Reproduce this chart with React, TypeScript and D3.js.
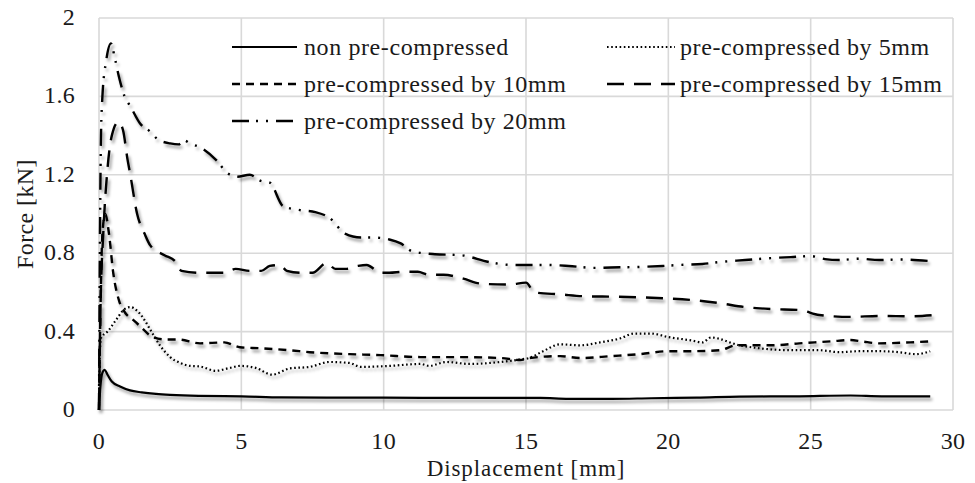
import React from "react";
import * as d3 from "d3";

type Pt = [number, number];

// Force–displacement curves: [displacement mm, force kN]
const nonPreCompressed: Pt[] = [
  [0, 0], [0.05, 0.12], [0.12, 0.19], [0.2, 0.205], [0.3, 0.18], [0.45, 0.145],
  [0.74, 0.12], [1.09, 0.1], [1.5, 0.09], [2.0, 0.082], [2.5, 0.077], [3.5, 0.072],
  [5, 0.07], [6.4, 0.064], [8, 0.063], [10, 0.063], [12, 0.062], [14, 0.062],
  [15.5, 0.062], [16.5, 0.057], [18, 0.057], [19.4, 0.06], [21, 0.063], [22.5, 0.068],
  [24.6, 0.07], [26.4, 0.074], [27.5, 0.07], [29.2, 0.07],
];

const preCompressed5: Pt[] = [
  [0, 0], [0.03, 0.3], [0.08, 0.37], [0.3, 0.4], [0.6, 0.46], [0.9, 0.515], [1.1, 0.525],
  [1.35, 0.505], [1.55, 0.47], [1.8, 0.41], [2.14, 0.33], [2.5, 0.27], [2.85, 0.24],
  [3.2, 0.225], [3.55, 0.222], [4.1, 0.2], [4.6, 0.215], [4.95, 0.225], [5.5, 0.215],
  [6.08, 0.18], [6.7, 0.212], [7.4, 0.22], [8.1, 0.245], [8.8, 0.24], [9.2, 0.22],
  [10.2, 0.225], [11.3, 0.235], [11.6, 0.225], [12.2, 0.245], [13, 0.235], [14.1, 0.245],
  [14.8, 0.258], [15.1, 0.265], [15.6, 0.3], [16.2, 0.335], [16.9, 0.33], [17.6, 0.345],
  [18.3, 0.365], [18.8, 0.39], [19.4, 0.39], [20, 0.372], [20.8, 0.355], [21.2, 0.345],
  [21.5, 0.37], [22.5, 0.33], [23.2, 0.315], [24.3, 0.305], [25.3, 0.305], [26, 0.295],
  [26.7, 0.3], [27.4, 0.3], [28.1, 0.295], [28.7, 0.285], [29.2, 0.3],
];

const preCompressed10: Pt[] = [
  [0, 0], [0.05, 0.5], [0.12, 0.9], [0.22, 1.0], [0.35, 0.9], [0.5, 0.7], [0.7, 0.56],
  [0.9, 0.5], [1.2, 0.46], [1.5, 0.42], [1.8, 0.38], [2.3, 0.36], [2.78, 0.36],
  [3.55, 0.34], [4.4, 0.345], [4.95, 0.32], [5.66, 0.315], [6.7, 0.305], [7.4, 0.295],
  [8.8, 0.285], [9.9, 0.28], [11.3, 0.27], [12.7, 0.27], [14.1, 0.265], [14.8, 0.255],
  [15.1, 0.265], [16.2, 0.275], [16.9, 0.265], [18, 0.275], [19, 0.285], [20, 0.3],
  [20.8, 0.3], [21.8, 0.305], [22.4, 0.33], [23.6, 0.33], [24.6, 0.34], [25.7, 0.35],
  [26.4, 0.357], [26.8, 0.35], [27.4, 0.34], [28.5, 0.345], [29.2, 0.35],
];

const preCompressed15: Pt[] = [
  [0, 0], [0.05, 0.5], [0.15, 0.9], [0.28, 1.2], [0.45, 1.4], [0.68, 1.47], [0.84, 1.43],
  [1.0, 1.28], [1.1, 1.2], [1.34, 1.0], [1.6, 0.9], [1.8, 0.84], [2.3, 0.79], [2.67, 0.76],
  [2.9, 0.71], [3.55, 0.7], [4.0, 0.7], [4.4, 0.7], [4.8, 0.72], [5.3, 0.71], [5.7, 0.71],
  [6.0, 0.735], [6.35, 0.74], [6.6, 0.71], [7.1, 0.7], [7.5, 0.7], [8.0, 0.75], [8.3, 0.72],
  [8.7, 0.72], [9.1, 0.735], [9.4, 0.74], [9.9, 0.7], [10.2, 0.7], [10.7, 0.705],
  [11.2, 0.705], [11.6, 0.69], [12.1, 0.69], [12.8, 0.67], [13.4, 0.645], [14.4, 0.64],
  [15.0, 0.65], [15.3, 0.6], [16.2, 0.59], [17.1, 0.58], [18.1, 0.578], [19, 0.575],
  [19.8, 0.57], [20.9, 0.56], [21.8, 0.545], [22.7, 0.525], [23.6, 0.515], [24.6, 0.51],
  [25.3, 0.485], [26.4, 0.475], [27.4, 0.48], [28.5, 0.478], [29.4, 0.485],
];

const preCompressed20: Pt[] = [
  [0, 0], [0.03, 0.8], [0.07, 1.4], [0.12, 1.6], [0.25, 1.78], [0.42, 1.87], [0.55, 1.8],
  [0.7, 1.7], [0.9, 1.6], [1.1, 1.55], [1.45, 1.46], [1.8, 1.42], [2.07, 1.38], [2.5, 1.36],
  [2.8, 1.355], [3.0, 1.375], [3.2, 1.36], [3.55, 1.34], [4.15, 1.27], [4.5, 1.21],
  [4.85, 1.19], [5.3, 1.2], [5.66, 1.17], [6.0, 1.16], [6.47, 1.04], [7.06, 1.02],
  [7.6, 1.01], [8.1, 0.98], [8.64, 0.9], [9.2, 0.88], [9.63, 0.88], [10.2, 0.87],
  [10.6, 0.85], [11.0, 0.81], [11.8, 0.795], [12.7, 0.79], [13.7, 0.755], [14.5, 0.74],
  [15.7, 0.74], [16.5, 0.735], [17.4, 0.725], [18.3, 0.728], [19.0, 0.73], [19.8, 0.735],
  [20.4, 0.74], [21.2, 0.745], [21.8, 0.755], [22.7, 0.765], [23.6, 0.775], [24.3, 0.78],
  [25.0, 0.785], [25.5, 0.77], [26.0, 0.765], [26.7, 0.772], [27.4, 0.765], [28.1, 0.768],
  [29.2, 0.76],
];

const seriesNames = [
  "non pre-compressed",
  "pre-compressed by 5mm",
  "pre-compressed by 10mm",
  "pre-compressed by 15mm",
  "pre-compressed by 20mm",
];
const seriesData = [nonPreCompressed, preCompressed5, preCompressed10, preCompressed15, preCompressed20];

const xTicks = [0, 5, 10, 15, 20, 25, 30];
const yTicks = [0, 0.4, 0.8, 1.2, 1.6, 2];

const xTitle = "Displacement [mm]";
const yTitle = "Force [kN]";

// Line styling per series
const styles = [
  { dash: "", width: 2.2 },
  { dash: "1.6 2.6", width: 2.2 },
  { dash: "8 6", width: 2.4 },
  { dash: "17 10", width: 2.4 },
  { dash: "17 7 2 8 2 8", width: 2.4 },
];

const W = 975;
const H = 483;
const left = 99;
const right = 953;
const top = 18;
const bottom = 410;
const FONT = "'Liberation Serif', 'Times New Roman', serif";
const textColor = "#1a1a1a";

export default function App() {
  const x = d3.scaleLinear().domain([0, 30]).range([left, right]);
  const y = d3.scaleLinear().domain([0, 2]).range([bottom, top]);
  const line = d3
    .line<Pt>()
    .x((d) => x(d[0]))
    .y((d) => y(d[1]))
    .curve(d3.curveMonotoneX);

  // legend layout: two columns, rows top to bottom
  const legendCols = [
    { sx: 232, ex: 297, tx: 304 },
    { sx: 607, ex: 675, tx: 680 },
  ];
  const legendRows = [47, 84, 121];

  return (
    <svg
      width={W}
      height={H}
      style={{ position: "absolute", left: 0, top: 0, background: "#fff" }}
      fontFamily={FONT}
    >
      <defs>
        <filter id="lineShadow" filterUnits="userSpaceOnUse" x={0} y={0} width={W} height={H}>
          <feDropShadow dx={2} dy={3} stdDeviation={1.8} floodColor="#000" floodOpacity={0.4} />
        </filter>
      </defs>
      <rect x={0} y={0} width={W} height={H} fill="#fff" />

      {/* grid */}
      <g stroke="#d9d9d9" strokeWidth={1.6}>
        {yTicks.map((t) => (
          <line key={"gy" + t} x1={left} x2={right} y1={y(t)} y2={y(t)} />
        ))}
        {xTicks.map((t) => (
          <line key={"gx" + t} x1={x(t)} x2={x(t)} y1={top} y2={bottom} />
        ))}
      </g>

      {/* y tick labels */}
      <g fontSize={24} fill={textColor} textAnchor="end" letterSpacing={0.3}>
        {yTicks.map((t) => (
          <text key={"ty" + t} x={75} y={y(t) + 7}>
            {d3.format("~g")(t)}
          </text>
        ))}
      </g>

      {/* x tick labels */}
      <g fontSize={24} fill={textColor} textAnchor="middle" letterSpacing={0.3}>
        {xTicks.map((t) => (
          <text key={"tx" + t} x={x(t)} y={449}>
            {t}
          </text>
        ))}
      </g>

      {/* axis titles */}
      <text
        x={(left + right) / 2}
        y={476}
        fontSize={23}
        fill={textColor}
        textAnchor="middle"
        letterSpacing={0.9}
      >
        {xTitle}
      </text>
      <text
        transform={`translate(33, ${(top + bottom) / 2}) rotate(-90)`}
        fontSize={24}
        fill={textColor}
        textAnchor="middle"
        letterSpacing={0.4}
      >
        {yTitle}
      </text>

      {/* curves */}
      <g fill="none" stroke="#000" filter="url(#lineShadow)">
        {seriesData.map((d, i) => (
          <path
            key={"s" + i}
            d={line(d) || ""}
            strokeWidth={styles[i].width}
            strokeDasharray={styles[i].dash || undefined}
            strokeLinejoin="round"
          />
        ))}
      </g>

      {/* legend */}
      <g>
        {seriesNames.map((name, k) => {
          const col = legendCols[k % 2];
          const ry = legendRows[Math.floor(k / 2)];
          return (
            <g key={"lg" + k}>
              <line
                x1={col.sx}
                x2={col.ex}
                y1={ry}
                y2={ry}
                stroke="#000"
                strokeWidth={styles[k].width}
                strokeDasharray={styles[k].dash || undefined}
              />
              <text x={col.tx} y={ry + 8} fontSize={24} fill={textColor} letterSpacing={0.6}>
                {name}
              </text>
            </g>
          );
        })}
      </g>
    </svg>
  );
}
